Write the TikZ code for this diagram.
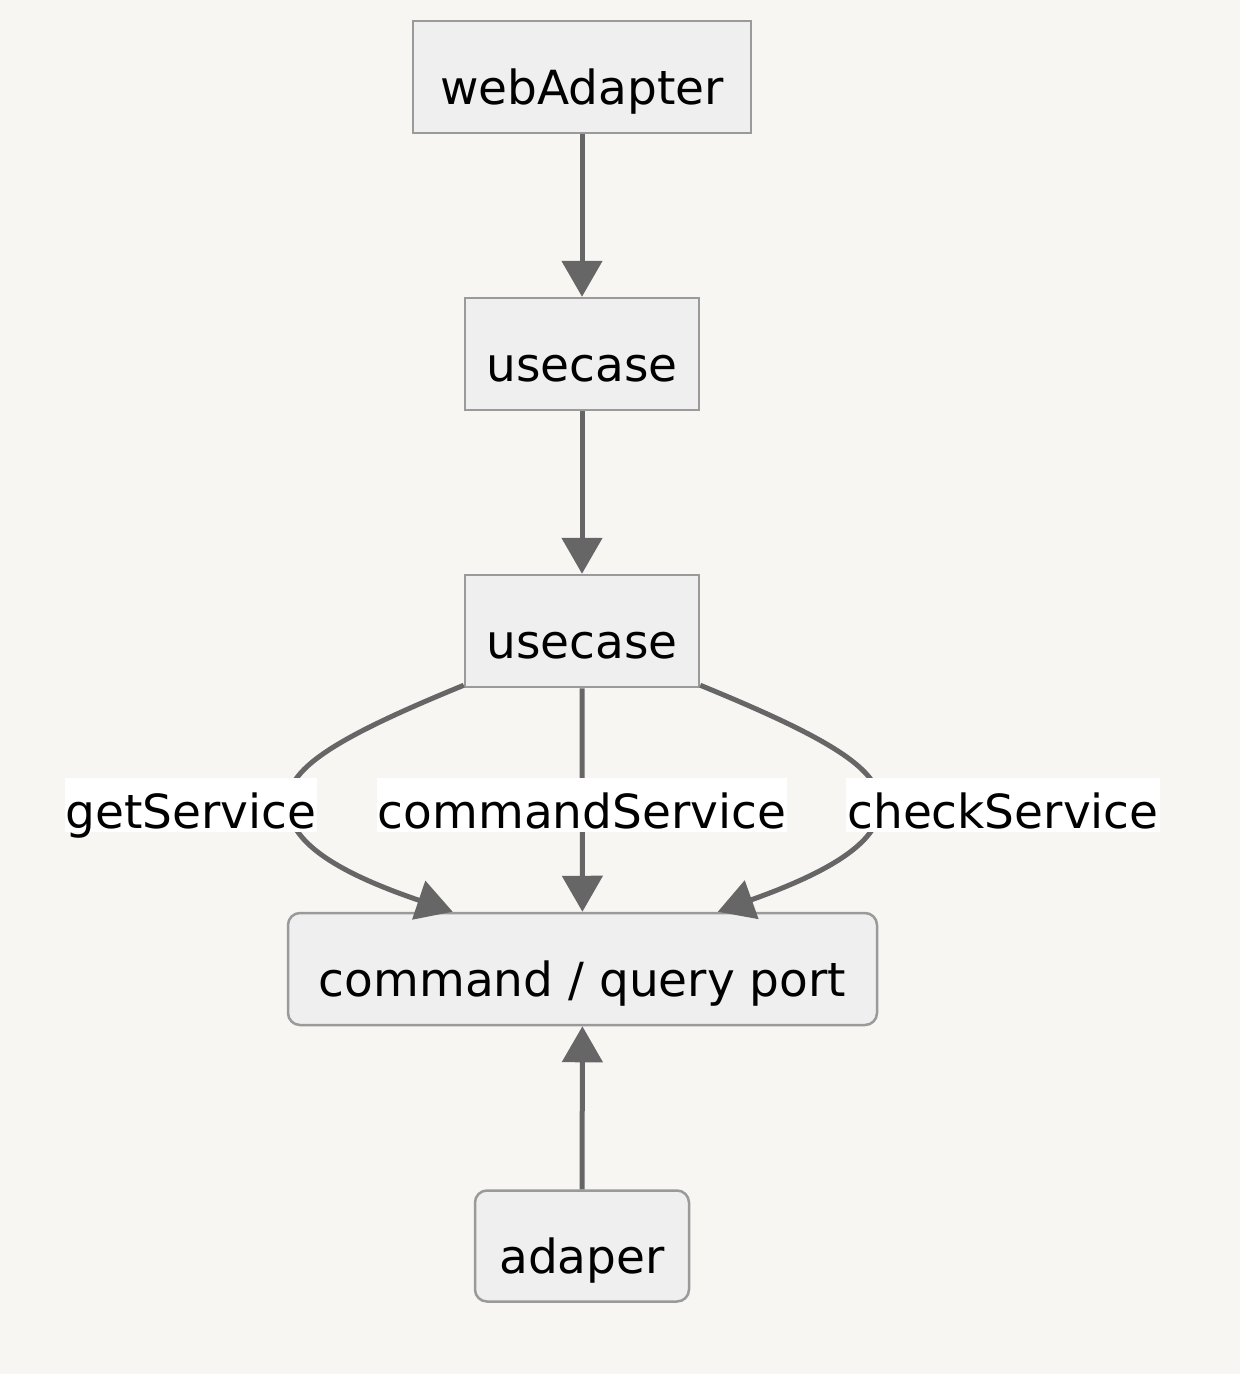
\documentclass[tikz,border=0pt]{standalone}
\usepackage{fontspec}
\setmainfont{DejaVu Sans}
\usetikzlibrary{arrows.meta,calc}
\definecolor{bg}{HTML}{F7F6F3}
\definecolor{boxfill}{HTML}{EFEFEF}
\definecolor{boxline}{HTML}{9A9A9A}
\definecolor{edge}{HTML}{666666}
\begin{document}
\begin{tikzpicture}[x=1pt,y=-1pt,
  box/.style={draw=boxline,fill=boxfill,line width=2.5pt,inner sep=0pt,
    text height=54pt,text depth=0pt,font=\fontsize{47}{51}\selectfont},
  roundbox/.style={box,rounded corners=12pt},
  lbl/.style={fill=white,inner xsep=1pt,inner ysep=0pt,minimum height=54pt,
    text height=46pt,text depth=0pt,font=\fontsize{47}{51}\selectfont},
  conn/.style={draw=edge,line width=5pt,-{Triangle[length=36pt,width=40pt]}},
  plain/.style={draw=edge,line width=5pt}]
\useasboundingbox (0,0) rectangle (1240,1374);
\fill[bg] (0,0) rectangle (1240,1374);
\node[box,minimum width=338pt,minimum height=112pt] (web) at (582,77) {webAdapter};
\node[box,minimum width=234pt,minimum height=112pt] (u1) at (582,354) {usecase};
\node[box,minimum width=234pt,minimum height=112pt] (u2) at (582,631) {usecase};
\node[roundbox,minimum width=589pt,minimum height=112pt] (port) at (582.5,969) {command / query port};
\node[roundbox,minimum width=214pt,minimum height=111pt] (ad) at (582,1246) {adaper};
\coordinate (pl) at ($(port.north west)+(166,0)$);
\coordinate (pr) at ($(port.north west)+(431,0)$);
\draw[conn] (web) -- (u1);
\draw[conn] (u1) -- (u2);
\draw[conn] ($(u2.south west)+(0,-3)$) .. controls (330,740) and (286,770) .. (288,805)
   .. controls (290,840) and (330,870) .. (pl);
\draw[conn] (u2) -- (port);
\draw[conn] ($(u2.south east)+(0,-3)$) .. controls (834,740) and (880,770) .. (880,805)
   .. controls (880,840) and (835,870) .. (pr);
\draw[conn] (ad) -- (port);
\node[lbl] (l1) at (191,805) {getService};
\node[lbl] (l2) at (582,805) {commandService};
\node[lbl] (l3) at (1003,805) {checkService};
\end{tikzpicture}
\end{document}
